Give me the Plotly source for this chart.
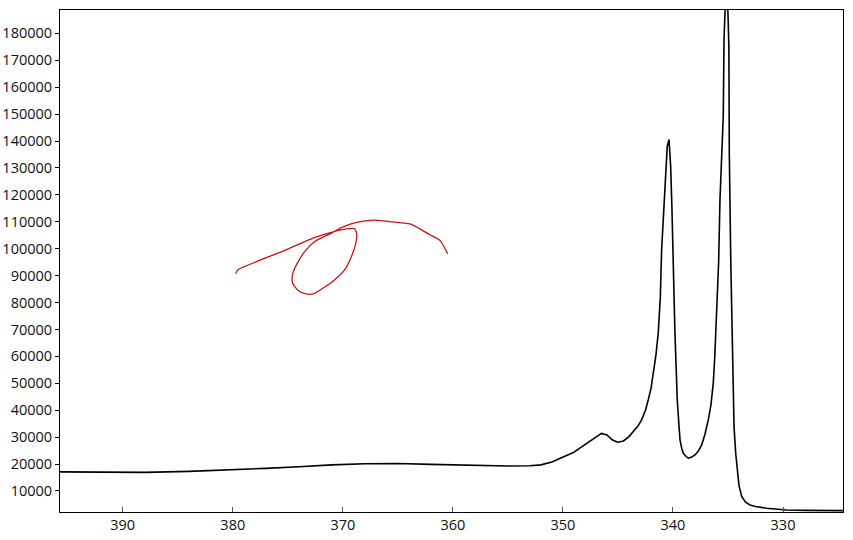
import plotly.graph_objects as go

# Spectrum (wavelength, intensity)
wavelength = [395.7, 392, 388, 384, 380, 377, 374, 371, 368, 365, 362, 360, 357, 355, 353, 352, 351,
              350, 349.5, 349, 348.5, 348, 347.5, 347, 346.5, 346, 345.5, 345, 344.5, 344, 343.6, 343.2,
              342.85, 342.5, 342.25, 342, 341.79, 341.55, 341.34, 341.15, 341.03, 340.85, 340.73, 340.6,
              340.52, 340.36, 340.21, 340.1, 340.03, 339.9, 339.82, 339.7, 339.61, 339.45, 339.36, 339.2,
              339.06, 338.8, 338.6, 338.3, 338.0, 337.7, 337.39, 337.1, 336.79, 336.55, 336.34, 336.2,
              336.03, 335.85, 335.73, 335.55, 335.43, 335.36, 335.12, 334.92, 334.88, 334.75, 334.65,
              334.57, 334.45, 334.3, 334.2, 334.0, 333.75, 333.4, 333.0, 332.5, 331.5, 330.5, 329.7,
              328, 326, 324.5]
intensity = [17100, 16900, 16900, 17300, 17800, 18400, 19000, 19700, 20100, 20200, 19900, 19700, 19400,
             19300, 19400, 19700, 20800, 22700, 23500, 24400, 25800, 27200, 28800, 30300, 31400, 30800,
             28900, 28100, 28600, 30200, 32000, 34000, 36400, 40000, 43800, 48000, 53800, 60500, 68700,
             82000, 99700, 113000, 124500, 133000, 138100, 140600, 130600, 116000, 99700, 82000, 68700,
             54000, 43800, 34000, 29000, 25800, 24000, 22800, 22200, 22600, 23400, 24800, 27100, 31000,
             36400, 42000, 50000, 60000, 74800, 95000, 118200, 135000, 149200, 178000, 205000, 175000,
             135000, 95800, 75000, 58700, 33800, 24000, 19000, 12000, 7900, 5800, 4800, 4200, 3600,
             3200, 2950, 2800, 2700, 2700]

# Red hand-drawn scribble
scribble_x = [379.73, 379.52, 378.15, 376.64, 375.12, 373.61, 372.39, 370.88, 369.66, 368.97, 368.75,
              368.82, 369.21, 369.82, 370.73, 371.79, 372.7, 373.36, 374.06, 374.57, 374.57, 374.21,
              373.45, 372.55, 371.18, 369.97, 368.75, 367.25, 365.73, 363.91, 363.0, 362.09, 361.18,
              360.48]
scribble_y = [90700, 92200, 94700, 97200, 99700, 102400, 104400, 106300, 107400, 107500, 105900,
              102100, 97200, 92200, 88500, 85400, 83200, 83200, 84500, 87300, 90400, 94100, 99000,
              102700, 105500, 108100, 109800, 110600, 110100, 109200, 107400, 105200, 103100, 98200]

x_ticks = [390, 380, 370, 360, 350, 340, 330]
y_ticks = list(range(10000, 190000, 10000))

fig = go.Figure()
fig.add_trace(go.Scatter(x=wavelength, y=intensity, mode="lines",
                         line=dict(color="black", width=1.6), showlegend=False))
fig.add_trace(go.Scatter(x=scribble_x, y=scribble_y, mode="lines",
                         line=dict(color="#c81414", width=1.3, shape="spline", smoothing=0.6),
                         showlegend=False))

font = dict(family="Open Sans", size=14.5, color="#111111")
fig.update_layout(
    width=853, height=540,
    margin=dict(l=60, r=10, t=10, b=28),
    paper_bgcolor="white", plot_bgcolor="white",
    font=font,
    xaxis=dict(range=[395.7, 324.55], tickvals=x_ticks, showgrid=False, zeroline=False,
               showline=True, linecolor="black", linewidth=1, mirror=True, automargin=False,
               ticks="inside", ticklen=5, tickcolor="#555555", tickfont=font),
    yaxis=dict(range=[2190, 188700], tickvals=y_ticks, tickformat="d", showgrid=False,
               zeroline=False, showline=True, linecolor="black", linewidth=1, mirror=True,
               automargin=False, ticks="outside", ticklen=4, tickcolor="black", tickfont=font),
)
fig.write_html("out.html", config={"displayModeBar": False},
               post_script="document.body.style.margin='0';document.body.style.overflow='hidden';")
